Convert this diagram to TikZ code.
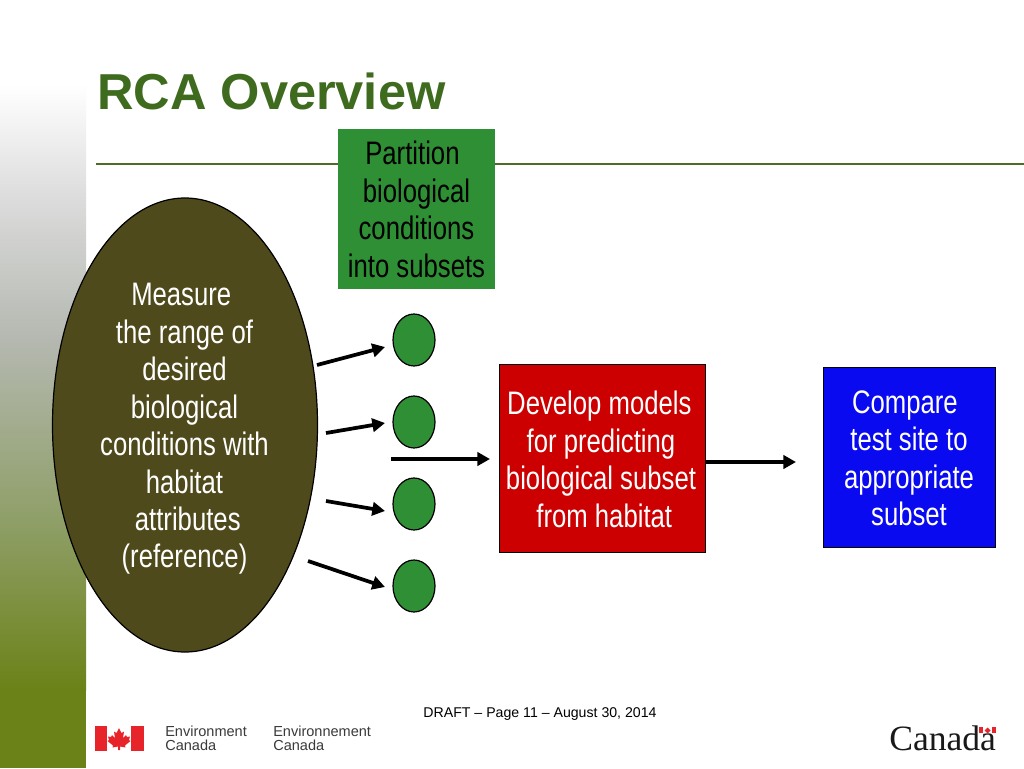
\documentclass[tikz,border=0pt]{standalone}
\usepackage{fontspec}
\setmainfont{Liberation Sans}
\newfontfamily\narrowfont[FakeStretch=0.79]{Liberation Sans}
\newfontfamily\canadafont{Liberation Serif}
\usetikzlibrary{arrows.meta,shapes.geometric}
\definecolor{titlegreen}{HTML}{3F6B1F}
\definecolor{rulegreen}{HTML}{4F6B2A}
\definecolor{boxgreen}{HTML}{2F8F35}
\definecolor{olivedark}{HTML}{4F4A1B}
\definecolor{boxred}{HTML}{CC0000}
\definecolor{boxblue}{HTML}{0A0AF0}
\definecolor{flagred}{HTML}{E8242B}
\definecolor{sideolive}{HTML}{6B8218}
\definecolor{sidemid}{HTML}{8F9F68}
\definecolor{sidegrey}{HTML}{B4B8B0}
\definecolor{logotext}{HTML}{3A3A3A}
\tikzset{
  x=.75pt,y=-.75pt,
  bodytext/.style={font=\narrowfont\fontsize{24.4}{28.1}\selectfont,align=center,inner sep=0pt},
  boxnode/.style={line width=.75pt,inner sep=0pt},
  blob/.style={draw=black,line width=.9pt,fill=boxgreen,ellipse,minimum width=31.5pt,minimum height=39pt,inner sep=0pt},
  thickarrow/.style={line width=2.8pt,-{Triangle[length=9.5pt,width=10pt]}},
  logo/.style={font=\fontsize{10.9}{10.7}\selectfont,text=logotext,align=left,inner sep=0pt,anchor=west}
}
\begin{document}
\begin{tikzpicture}
\useasboundingbox (0,0) rectangle (1024,768);
\fill[white] (0,0) rectangle (1024,768);
% side band
\shade[top color=white,bottom color=black!14!white] (0,85) rectangle (86,200);
\shade[top color=black!14!white,bottom color=sidegrey] (0,200) rectangle (86,340);
\shade[top color=sidegrey,bottom color=sidemid] (0,340) rectangle (86,520);
\shade[top color=sidemid,bottom color=sideolive] (0,520) rectangle (86,690);
\fill[sideolive] (0,690) rectangle (86,768);
% title and rule
\node[anchor=base west,inner sep=0pt,text=titlegreen,font=\bfseries\fontsize{37.9}{40}\selectfont] (title) at (97,109.5) {RCA Overview};
\coordinate (ruleL) at (96,164);
\coordinate (ruleR) at (1024,164);
\draw[rulegreen,line width=2.1pt] (ruleL) -- (ruleR);
% boxes
\node[fill=boxgreen,minimum width=118pt,minimum height=120pt,inner sep=0pt] (partition) at (416.5,209) {};
\node[bodytext,text=black] (partitiontext) at (416.5,209.5)
  {Partition\hspace*{.25em}\\biological\\conditions\\into subsets};
\draw[fill=olivedark,line width=.9pt] (185,425) ellipse [x radius=132.5,y radius=227];
\node[bodytext,text=white] (measure) at (184.5,429)
  {Measure\hspace*{.2em}\\the range of\\desired\\biological\\conditions with\hspace*{.4em}\\habitat\\\hspace*{.2em}attributes\\(reference)};
\node[fill=boxred,draw=black,boxnode,minimum width=154.5pt,minimum height=140.5pt] (develop) at (602,458.5) {};
\node[bodytext,text=white] (developtext) at (601,459.5)
  {Develop models\hspace*{.1em}\\for predicting\hspace*{.3em}\\biological subset\hspace*{.1em}\\\hspace*{.2em}from habitat};
\node[fill=boxblue,draw=black,boxnode,minimum width=129pt,minimum height=134.5pt] (compare) at (909,457.5) {};
\node[bodytext,text=white] (comparetext) at (909,458.5)
  {Compare\hspace*{.25em}\\test site to\\appropriate\hspace*{.45em}\\subset};
\node[blob] (c1) at (414,340) {};
\node[blob] (c2) at (414,422) {};
\node[blob] (c3) at (414,504) {};
\node[blob] (c4) at (414,586) {};
% arrows
\coordinate (a1s) at (317,365); \coordinate (a1e) at (385,347);
\coordinate (a2s) at (326,433); \coordinate (a2e) at (385,423);
\coordinate (a3s) at (326,501); \coordinate (a3e) at (385,511);
\coordinate (a4s) at (308,561); \coordinate (a4e) at (385,587);
\coordinate (a5s) at (391,459); \coordinate (a5e) at (490,459);
\coordinate (a6s) at (706,462); \coordinate (a6e) at (796,462);
\foreach \k in {1,...,6} \draw[thickarrow] (a\k s) -- (a\k e);
% footer
\node[anchor=base,inner sep=0pt,font=\fontsize{10.6}{12}\selectfont] (footer) at (540,717) {DRAFT – Page 11 – August 30, 2014};
% flag
\fill[flagred] (94.5,725.5) rectangle (107,751);
\fill[flagred] (131,725.5) rectangle (143.5,751);
\fill[flagred] (119,728) -- (121.5,733) -- (124,731.5) -- (123,738) -- (126,735) -- (127,737) -- (130,736.5) -- (129,740) -- (130.5,741) -- (125,745.5) -- (125.5,747.5) -- (120,746.5) -- (120,750) -- (118,750) -- (118,746.5) -- (112.5,747.5) -- (113,745.5) -- (107.5,741) -- (109,740) -- (108,736.5) -- (111,737) -- (112,735) -- (115,738) -- (114,731.5) -- (116.5,733) -- cycle;
\node[logo] (envE) at (165,738) {Environment\\Canada};
\node[logo] (envF) at (273,738) {Environnement\\Canada};
% Canada wordmark
\node[anchor=base west,inner sep=0pt,font=\canadafont\fontsize{26.7}{28}\selectfont,text=black!90] (canada) at (889,750) {Canada};
\fill[flagred] (979,727) rectangle (983,733);
\fill[flagred] (992,727) rectangle (996,733);
\fill[flagred] (987.5,727.5) -- (990.5,730.5) -- (988,733) -- (987,733) -- (984.5,730.5) -- cycle;
\end{tikzpicture}
\end{document}
